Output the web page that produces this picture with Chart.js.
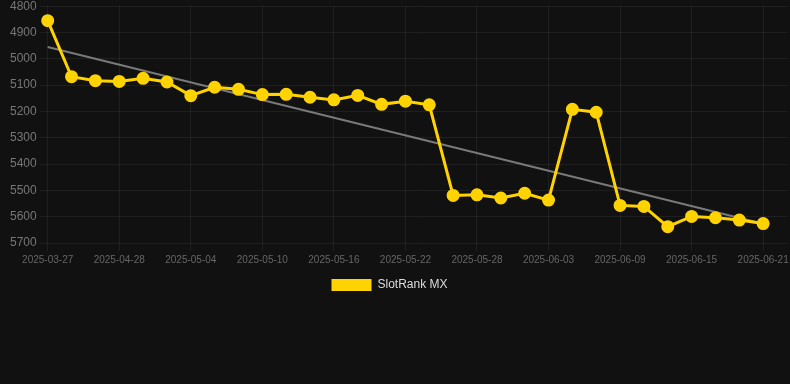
<!DOCTYPE html>
<html>
<head>
<meta charset="utf-8">
<script src="https://cdn.jsdelivr.net/npm/chart.js@4"></script>
<style>
  html, body { margin: 0; padding: 0; background: #111111; overflow: hidden; }
  #wrap { position: relative; width: 796px; height: 309px; margin-top: -4px; }
</style>
</head>
<body>
<div id="wrap"><canvas id="c"></canvas></div>
<script>
const labels = [
  "2025-03-27","2025-04-24","2025-04-26","2025-04-28","2025-04-30","2025-05-02",
  "2025-05-04","2025-05-06","2025-05-08","2025-05-10","2025-05-12","2025-05-14",
  "2025-05-16","2025-05-18","2025-05-20","2025-05-22","2025-05-24","2025-05-26",
  "2025-05-28","2025-05-30","2025-06-01","2025-06-03","2025-06-05","2025-06-07",
  "2025-06-09","2025-06-11","2025-06-13","2025-06-15","2025-06-17","2025-06-19",
  "2025-06-21","2025-06-23"
];
const rankValues = [
  4855, 5068, 5083, 5086, 5074, 5088,
  5140, 5108, 5116, 5136, 5135, 5146,
  5156, 5139, 5173, 5161, 5175, 5519,
  5517, 5529, 5511, 5537, 5192, 5203,
  5557, 5561, 5638, 5599, 5604, 5613,
  5626, null
];
const trendStart = 4955;
const trendEnd = 5627;
const trendValues = labels.map((_, i) => i === 0 ? trendStart : (i === 30 ? trendEnd : null));
const yTicks = [4800, 4900, 5000, 5100, 5200, 5300, 5400, 5500, 5600, 5700];

const legendShift = {
  id: 'legendShift',
  afterLayout(chart) {
    if (chart.legend) { chart.legend.left -= 12; chart.legend.right -= 12; }
  }
};

new Chart(document.getElementById('c'), {
  type: 'line',
  plugins: [legendShift],
  data: {
    labels: labels,
    datasets: [
      {
        label: 'SlotRank MX',
        data: rankValues,
        borderColor: '#FFD300',
        backgroundColor: '#FFD300',
        borderWidth: 3,
        pointRadius: 5,
        pointHoverRadius: 6,
        pointBackgroundColor: '#FFD300',
        pointBorderColor: '#FFD300',
        tension: 0,
        order: 1
      },
      {
        label: 'trend',
        data: trendValues,
        borderColor: 'rgba(140,140,140,0.85)',
        borderWidth: 2,
        pointRadius: 0,
        spanGaps: true,
        fill: false,
        order: 2
      }
    ]
  },
  options: {
    responsive: true,
    maintainAspectRatio: false,
    animation: false,
    layout: { padding: { left: 7, right: 0, top: 0, bottom: 4 } },
    plugins: {
      legend: {
        position: 'bottom',
        labels: {
          color: '#dddddd',
          font: { family: 'Liberation Sans, Arial, sans-serif', size: 12 },
          boxWidth: 40,
          boxHeight: 12,
          filter: (item) => item.text !== 'trend',
          generateLabels: (chart) => Chart.defaults.plugins.legend.labels.generateLabels(chart).map(l => Object.assign(l, { lineWidth: 0 }))
        }
      },
      tooltip: { enabled: false }
    },
    scales: {
      x: {
        grid: { color: 'rgba(255,255,255,0.06)', drawTicks: true, tickColor: 'rgba(255,255,255,0.06)' },
        border: { display: false },
        ticks: {
          color: '#666666',
          font: { family: 'Liberation Sans, Arial, sans-serif', size: 10 },
          maxRotation: 0,
          autoSkip: false,
          callback: function(val, idx) { return idx % 3 === 0 ? this.getLabelForValue(val) : null; }
        }
      },
      y: {
        reverse: true,
        min: 4800,
        max: 5700,
        grid: { color: 'rgba(255,255,255,0.06)', tickColor: 'rgba(255,255,255,0.06)' },
        border: { display: false },
        afterBuildTicks: (axis) => { axis.ticks = yTicks.map(v => ({ value: v })); },
        ticks: {
          color: '#777777',
          font: { family: 'Liberation Sans, Arial, sans-serif', size: 12 },
          callback: (v) => String(v)
        }
      }
    }
  }
});
</script>
</body>
</html>
